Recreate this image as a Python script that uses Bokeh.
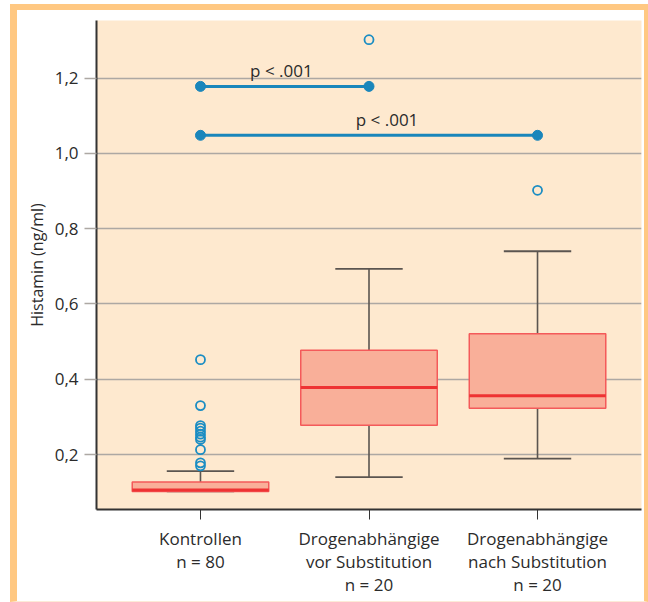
from bokeh.plotting import figure
from bokeh.models import FixedTicker, Range1d
from bokeh.core.properties import value
from bokeh.embed import file_html
from bokeh.resources import INLINE

# ---- data ----
categories = ["Kontrollen\nn = 80",
              "Drogenabhängige\nvor Substitution\nn = 20",
              "Drogenabhängige\nnach Substitution\nn = 20"]
group_pos = [0, 1, 2]
q1 = [0.102, 0.278, 0.323]
median = [0.106, 0.378, 0.356]
q3 = [0.127, 0.477, 0.521]
whisker_low = [0.102, 0.140, 0.189]
whisker_high = [0.156, 0.693, 0.740]
outlier_group = [0, 0, 0, 0, 0, 0, 0, 0, 0, 0, 0, 1, 2]
outlier_values = [0.452, 0.330, 0.277, 0.270, 0.262, 0.254, 0.246, 0.240,
                  0.213, 0.178, 0.170, 1.302, 0.902]
y_ticks = [0.2, 0.4, 0.6, 0.8, 1.0, 1.2]
y_tick_labels = ["0,2", "0,4", "0,6", "0,8", "1,0", "1,2"]
sig_from = [0, 0]
sig_to = [1, 2]
sig_level = [1.178, 1.048]
sig_labels = ["p < .001", "p < .001"]
sig_label_x = [0.48, 1.107]
sig_label_y = [1.22, 1.09]

FONT = "Open Sans"
ORANGE = "#FFC882"
TXT = "#2B2B2B"

p = figure(width=638, height=598,
           x_range=Range1d(-0.617, 2.617), y_range=Range1d(0.054, 1.353),
           output_backend="svg", toolbar_location=None,
           min_border_left=79, min_border_right=14,
           min_border_top=10, min_border_bottom=99)
p.styles = {"margin-left": "10px",
            "margin-top": "4px",
            "border-left": f"7px solid {ORANGE}",
            "border-top": f"6px solid {ORANGE}",
            "border-right": f"4px solid {ORANGE}",
            "border-bottom": "1px solid #FCEBD8"}
p.background_fill_color = "#FEE9CF"
p.border_fill_color = "white"
p.outline_line_color = None

# axes
p.xgrid.visible = False
p.ygrid.ticker = FixedTicker(ticks=y_ticks)
p.ygrid.grid_line_color = "#ADA8A3"
p.ygrid.grid_line_width = 1.5

p.yaxis.ticker = FixedTicker(ticks=y_ticks)
p.yaxis.major_label_overrides = dict(zip(y_ticks, y_tick_labels))
p.yaxis.axis_line_color = "#333333"
p.yaxis.axis_line_width = 2
p.yaxis.major_tick_out = 12
p.yaxis.major_tick_in = 0
p.yaxis.major_tick_line_color = "#ADA8A3"
p.yaxis.major_tick_line_width = 1.5
p.yaxis.minor_tick_line_color = None
p.yaxis.major_label_standoff = 6
p.yaxis.major_label_text_font = FONT
p.yaxis.major_label_text_font_size = "17px"
p.yaxis.major_label_text_color = TXT
p.yaxis.axis_label = "Histamin (ng/ml)"
p.yaxis.axis_label_text_font = FONT
p.yaxis.axis_label_text_font_size = "16px"
p.yaxis.axis_label_text_font_style = "normal"
p.yaxis.axis_label_text_color = TXT
p.yaxis.axis_label_standoff = 4

p.xaxis.ticker = FixedTicker(ticks=group_pos)
p.xaxis.major_label_overrides = dict(zip(group_pos, categories))
p.xaxis.axis_line_color = "#333333"
p.xaxis.axis_line_width = 2
p.xaxis.major_tick_out = 10
p.xaxis.major_tick_in = 0
p.xaxis.major_tick_line_color = "#333333"
p.xaxis.major_tick_line_width = 1
p.xaxis.minor_tick_line_color = None
p.xaxis.major_label_standoff = 7
p.xaxis.major_label_text_font = FONT
p.xaxis.major_label_text_font_size = "17px"
p.xaxis.major_label_text_color = TXT
p.xaxis.major_label_text_line_height = 1.0

# whiskers and caps
WHISK = "#5B5550"
cap_half = 0.2
p.segment(x0=group_pos, y0=q3, x1=group_pos, y1=whisker_high, line_color=WHISK, line_width=1.6)
p.segment(x0=group_pos, y0=q1, x1=group_pos, y1=whisker_low, line_color=WHISK, line_width=1.6)
p.segment(x0=[g - cap_half for g in group_pos], y0=whisker_high,
          x1=[g + cap_half for g in group_pos], y1=whisker_high, line_color=WHISK, line_width=1.8)
p.segment(x0=[g - cap_half for g in group_pos], y0=whisker_low,
          x1=[g + cap_half for g in group_pos], y1=whisker_low, line_color=WHISK, line_width=1.8)

# boxes
p.vbar(x=group_pos, width=0.81, top=q3, bottom=q1,
       fill_color="#F9AF99", line_color="#F45A5A", line_width=1.5)
p.segment(x0=[g - 0.405 for g in group_pos], y0=median,
          x1=[g + 0.405 for g in group_pos], y1=median, line_color="#EE3333", line_width=3)

# outliers
p.scatter(x=outlier_group, y=outlier_values, marker="circle", size=9,
          fill_color=None, line_color="#1B8DC3", line_width=1.8)

# significance brackets
SIG = "#1A86BB"
p.segment(x0=sig_from, y0=sig_level, x1=sig_to, y1=sig_level, line_color=SIG, line_width=3)
p.scatter(x=sig_from + sig_to, y=sig_level + sig_level, marker="circle", size=10,
          fill_color=SIG, line_color=SIG)
p.text(x=sig_label_x, y=sig_label_y, text=sig_labels, text_align="center",
       text_baseline="alphabetic", text_font=value(FONT), text_font_size="17px",
       text_color=TXT)

open("out.html", "w").write(file_html(p, INLINE))
